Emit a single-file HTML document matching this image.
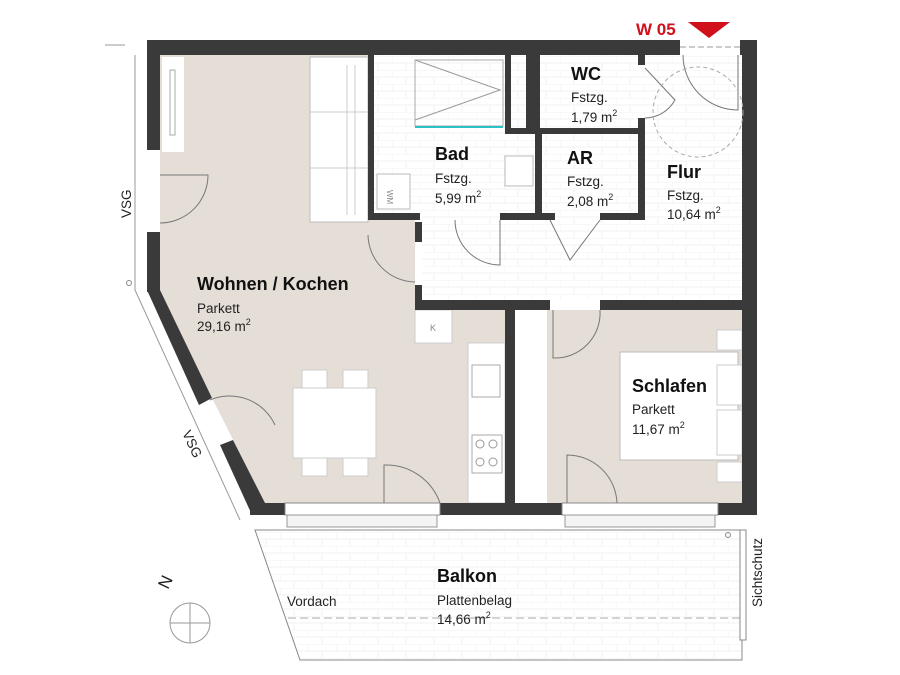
<!DOCTYPE html>
<html><head><meta charset="utf-8"><style>
html,body{margin:0;padding:0;background:#fff;}
svg{display:block;font-family:"Liberation Sans",sans-serif;}
.b{font-weight:bold;font-size:18px;fill:#111;}
.t{font-size:13.5px;fill:#222;}
</style></head><body>
<svg width="900" height="675" viewBox="0 0 900 675">
<defs>
<pattern id="tile" width="28" height="14" patternUnits="userSpaceOnUse">
<path d="M0 0H28M0 0V7M14 7V14M0 7H28" stroke="#f0f0f0" stroke-width="1" fill="none"/>
</pattern>
</defs>
<polygon points="160,55 415,55 415,310 505,310 505,503 265,503 160,295" fill="#e5ded7"/>
<rect x="515" y="310" width="227" height="193" fill="#e5ded7"/>
<rect x="514" y="310" width="33" height="193" fill="#fff"/>
<rect x="422" y="55" width="320" height="245" fill="url(#tile)"/>
<rect x="373" y="55" width="162" height="160" fill="#fff"/>
<rect x="373" y="55" width="162" height="160" fill="url(#tile)"/>
<polygon points="255,530 742,530 742,660 300,660" fill="url(#tile)" stroke="#888" stroke-width="1"/>
<line x1="288" y1="618" x2="740" y2="618" stroke="#aaa" stroke-dasharray="8,4"/>
<rect x="740" y="530" width="6" height="110" fill="#fff" stroke="#888"/>
<circle cx="728" cy="535" r="2.5" fill="none" stroke="#888"/>
<polyline points="135,55 135,290 240,520" fill="none" stroke="#999"/>
<polyline points="105,45 125,45" stroke="#999"/>
<circle cx="129" cy="283" r="2.5" fill="none" stroke="#888"/>
<rect x="162" y="57" width="22" height="95" fill="#fff"/>
<rect x="170" y="70" width="5" height="65" fill="none" stroke="#aaa"/>
<rect x="310" y="57" width="58" height="165" fill="#fff" stroke="#bbb"/>
<line x1="347" y1="65" x2="347" y2="215" stroke="#ccc"/><line x1="355" y1="65" x2="355" y2="215" stroke="#ccc"/>
<line x1="310" y1="112" x2="368" y2="112" stroke="#ccc"/><line x1="310" y1="168" x2="368" y2="168" stroke="#ccc"/>
<rect x="415" y="310" width="37" height="33" fill="#fff" stroke="#ccc"/><text x="430" y="331" font-size="9" fill="#888">K</text>
<rect x="468" y="343" width="37" height="160" fill="#fff" stroke="#ccc"/>
<rect x="472" y="365" width="28" height="32" fill="none" stroke="#aaa"/>
<rect x="472" y="435" width="30" height="38" fill="none" stroke="#aaa"/>
<circle cx="480" cy="444" r="4" fill="none" stroke="#999"/><circle cx="493" cy="444" r="4" fill="none" stroke="#999"/>
<circle cx="480" cy="462" r="4" fill="none" stroke="#999"/><circle cx="493" cy="462" r="4" fill="none" stroke="#999"/>
<rect x="293" y="388" width="83" height="70" fill="#fff" stroke="#ccc"/>
<rect x="302" y="370" width="25" height="18" fill="#fff" stroke="#ccc"/><rect x="343" y="370" width="25" height="18" fill="#fff" stroke="#ccc"/>
<rect x="302" y="458" width="25" height="18" fill="#fff" stroke="#ccc"/><rect x="343" y="458" width="25" height="18" fill="#fff" stroke="#ccc"/>
<rect x="620" y="352" width="118" height="108" fill="#fff" stroke="#bbb"/>
<rect x="717" y="330" width="25" height="20" fill="#fff" stroke="#ccc"/><rect x="717" y="462" width="25" height="20" fill="#fff" stroke="#ccc"/>
<rect x="717" y="365" width="25" height="40" fill="#fff" stroke="#ccc"/><rect x="717" y="410" width="25" height="45" fill="#fff" stroke="#ccc"/>
<polyline points="415,60 500,90 415,120" fill="none" stroke="#999"/>
<rect x="415" y="60" width="88" height="66" fill="none" stroke="#aaa"/>
<line x1="415" y1="127" x2="503" y2="127" stroke="#2cc0c8" stroke-width="2"/>
<rect x="377" y="174" width="33" height="35" fill="#fff" stroke="#bbb"/><text x="390" y="197" font-size="8" fill="#888" transform="rotate(90 392 192)">WM</text>
<rect x="505" y="156" width="28" height="30" fill="#fff" stroke="#bbb"/>
<g fill="#3a3a3a">
<rect x="147" y="40" width="610" height="15"/>
<rect x="742" y="40" width="15" height="475"/>
<rect x="147" y="40" width="13" height="110"/>
<rect x="147" y="232" width="13" height="60"/>
<polygon points="147,290 160,290 212,398 199,405"/>
<polygon points="220,445 233,440 265,503 252,515"/>
<rect x="250" y="503" width="35" height="12"/>
<rect x="440" y="503" width="122" height="12"/>
<rect x="718" y="503" width="39" height="12"/>
<rect x="505" y="310" width="10" height="193"/>
<rect x="368" y="55" width="6" height="165"/>
<rect x="368" y="213" width="52" height="7"/>
<rect x="500" y="213" width="55" height="7"/>
<rect x="600" y="213" width="45" height="7"/>
<rect x="505" y="55" width="6" height="78"/><rect x="526" y="55" width="14" height="78"/>
<rect x="505" y="128" width="140" height="6"/>
<rect x="535" y="128" width="7" height="92"/>
<rect x="638" y="55" width="7" height="10"/><rect x="638" y="118" width="7" height="102"/>
<rect x="415" y="222" width="7" height="20"/><rect x="415" y="285" width="7" height="25"/>
<rect x="415" y="300" width="135" height="10"/><rect x="600" y="300" width="142" height="10"/>
<rect x="680" y="40" width="60" height="15" fill="#fff"/>
</g>
<line x1="680" y1="47" x2="740" y2="47" stroke="#999" stroke-dasharray="6,3"/>
<rect x="285" y="503" width="155" height="12" fill="#fff" stroke="#888"/>
<rect x="562" y="503" width="156" height="12" fill="#fff" stroke="#888"/>
<rect x="287" y="515" width="150" height="12" fill="#f4f4f4" stroke="#999"/>
<rect x="565" y="515" width="150" height="12" fill="#f4f4f4" stroke="#999"/>
<g fill="none" stroke="#777" stroke-width="1">
<path d="M160 175 H208 A48 48 0 0 1 160 223"/>
<path d="M368 235 A48 48 0 0 0 415 282"/>
<path d="M455 220 A45 45 0 0 0 500 265 V220"/>
<path d="M550 220 L570 260 L600 220"/>
<path d="M645 68 L675 100 A35 35 0 0 1 645 118"/>
<path d="M683 55 A55 55 0 0 0 738 110 V55"/>
<circle cx="698" cy="112" r="45" stroke-dasharray="4,3" stroke="#aaa"/>
<path d="M553 310 V358 A45 45 0 0 0 600 310"/>
<path d="M384 503 V465 A57 57 0 0 1 440 503"/>
<path d="M567 503 V455 A50 50 0 0 1 617 503"/>
<path d="M210 400 A50 50 0 0 1 275 425"/>
</g>
<text class="b" x="197" y="290">Wohnen / Kochen</text>
<text class="t" x="197" y="313">Parkett</text>
<text class="t" x="197" y="331">29,16 m<tspan font-size="9" dy="-6">2</tspan></text>
<text class="b" x="435" y="160">Bad</text>
<text class="t" x="435" y="183">Fstzg.</text>
<text class="t" x="435" y="203">5,99 m<tspan font-size="9" dy="-6">2</tspan></text>
<text class="b" x="571" y="80">WC</text>
<text class="t" x="571" y="102">Fstzg.</text>
<text class="t" x="571" y="122">1,79 m<tspan font-size="9" dy="-6">2</tspan></text>
<text class="b" x="567" y="164">AR</text>
<text class="t" x="567" y="186">Fstzg.</text>
<text class="t" x="567" y="206">2,08 m<tspan font-size="9" dy="-6">2</tspan></text>
<text class="b" x="667" y="178">Flur</text>
<text class="t" x="667" y="200">Fstzg.</text>
<text class="t" x="667" y="219">10,64 m<tspan font-size="9" dy="-6">2</tspan></text>
<text class="b" x="632" y="392">Schlafen</text>
<text class="t" x="632" y="414">Parkett</text>
<text class="t" x="632" y="434">11,67 m<tspan font-size="9" dy="-6">2</tspan></text>
<text class="b" x="437" y="582">Balkon</text>
<text class="t" x="437" y="605">Plattenbelag</text>
<text class="t" x="437" y="624">14,66 m<tspan font-size="9" dy="-6">2</tspan></text>
<text class="t" x="287" y="606">Vordach</text>
<text class="t" x="0" y="0" transform="translate(131 218) rotate(-90)">VSG</text>
<text class="t" x="0" y="0" transform="translate(182 433) rotate(65)">VSG</text>
<text class="t" x="0" y="0" transform="translate(762 607) rotate(-90)">Sichtschutz</text>
<text x="0" y="0" font-size="17" fill="#222" transform="translate(168 590) rotate(-65)">N</text>
<g stroke="#999" fill="none"><circle cx="190" cy="623" r="20"/><line x1="170" y1="623" x2="210" y2="623"/><line x1="190" y1="603" x2="190" y2="643"/></g>
<text x="636" y="35" font-size="17" font-weight="bold" fill="#d0101a">W 05</text>
<polygon points="688,22 730,22 709,38" fill="#d0101a"/>
</svg>
</body></html>
